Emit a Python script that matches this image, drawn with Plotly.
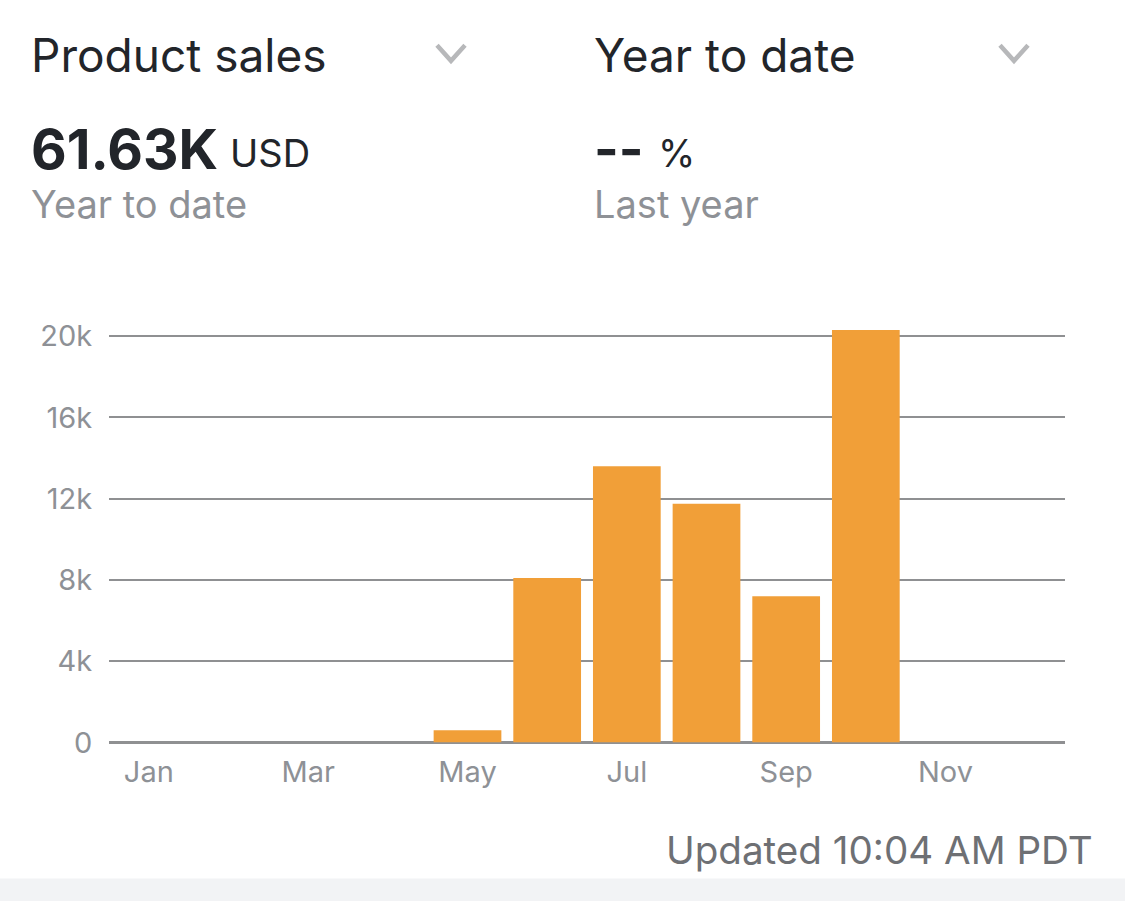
import plotly.graph_objects as go

months = ["Jan", "Feb", "Mar", "Apr", "May", "Jun", "Jul", "Aug", "Sep", "Oct", "Nov", "Dec"]
sales = [0, 0, 0, 0, 600, 8100, 13600, 11750, 7200, 20300, 0, 0]
x_labels = ["Jan", "Mar", "May", "Jul", "Sep", "Nov"]
y_ticks = [0, 4000, 8000, 12000, 16000, 20000]
y_labels = ["0", "4k", "8k", "12k", "16k", "20k"]

W, H = 1125, 918
FONT = "Inter"
DARK = "#22252a"
GREY = "#8e9196"


def px(v):
    return v / W


def py(v):
    return 1 - v / H


def text(s, x, y, size, color, anchor="left", weight=400):
    return dict(
        text=s, x=px(x), y=py(y), xref="paper", yref="paper", showarrow=False,
        xanchor=anchor, yanchor="middle", align=anchor,
        font=dict(family=FONT, size=size, color=color, weight=weight),
    )


def chevron(cx):
    return dict(
        type="path", xref="paper", yref="paper",
        path=f"M {px(cx-14)} {py(46)} L {px(cx)} {py(62)} L {px(cx+14)} {py(46)}",
        line=dict(color="#b7b8ba", width=4.5),
    )


fig = go.Figure(go.Bar(x=months, y=sales, marker=dict(color="#f19f38", line_width=0)))

fig.update_layout(
    autosize=False, width=W, height=H, margin=dict(l=0, r=0, t=0, b=0),
    paper_bgcolor="white", plot_bgcolor="white", showlegend=False, bargap=0.15,
    font=dict(family=FONT, color=GREY),
    xaxis=dict(
        domain=[px(109), px(1065)], type="category", categoryorder="array", categoryarray=months,
        tickmode="array", tickvals=x_labels, ticktext=x_labels,
        tickfont=dict(size=29, color=GREY), showgrid=False, showline=False, zeroline=False,
        ticks="outside", ticklen=4, tickcolor="rgba(0,0,0,0)",
    ),
    yaxis=dict(
        domain=[py(756.5), py(321.5)], range=[0, 21014], tickmode="array",
        tickvals=y_ticks, ticktext=y_labels, tickfont=dict(size=29, color=GREY),
        showgrid=True, gridcolor="#8f9092", gridwidth=1.6,
        zeroline=True, zerolinecolor="#8f9092", zerolinewidth=3,
        showline=False, ticks="outside", ticklen=10, tickcolor="rgba(0,0,0,0)",
    ),
    shapes=[
        dict(type="rect", xref="paper", yref="paper", x0=0, x1=1, y0=0, y1=py(895),
             fillcolor="#f2f3f5", line_width=0, layer="below"),
        chevron(451),
        chevron(1014),
    ],
    annotations=[
        text("Product sales", 29, 56, 46, DARK),
        text("Year to date", 592, 56, 46, DARK),
        text("61.63K", 29, 152, 55, DARK, weight=700),
        text("USD", 228, 156, 38, DARK),
        text("--", 592, 152, 53, DARK, weight=700),
        text("%", 656, 156, 38, DARK),
        text("Year to date", 29, 208, 38, GREY),
        text("Last year", 592, 208, 38, GREY),
        text("Updated 10:04 AM PDT", 1095, 866, 38.6, "#6e7074", anchor="right"),
    ],
)

fig.write_html(
    "out.html",
    config=dict(displayModeBar=False, responsive=False),
    post_script="document.body.style.margin='0';",
)
